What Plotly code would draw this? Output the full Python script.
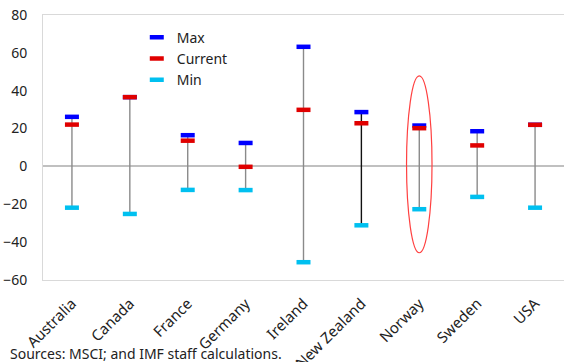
import plotly.graph_objects as go

categories = ["Australia", "Canada", "France", "Germany", "Ireland",
              "New Zealand", "Norway", "Sweden", "USA"]
max_vals = [26.2, 36.6, 16.5, 12.4, 63.2, 28.7, 21.6, 18.6, 22.0]
current_vals = [22.1, 36.6, 13.6, -0.2, 29.9, 22.8, 20.2, 11.1, 22.0]
min_vals = [-21.8, -25.1, -12.4, -12.5, -50.6, -31.1, -22.6, -16.1, -21.8]
y_ticks = [-60, -40, -20, 0, 20, 40, 60, 80]

FONT = "Noto Sans"
stem_colors = ["#8a8a8a", "#8a8a8a", "#8a8a8a", "#8a8a8a", "#8a8a8a",
               "#111111", "#8a8a8a", "#8a8a8a", "#8a8a8a"]

fig = go.Figure()

# stems from min to max
for c, lo, hi, col in zip(categories, min_vals, max_vals, stem_colors):
    fig.add_trace(go.Scatter(
        x=[c, c], y=[lo, max(hi, lo)], mode="lines",
        line=dict(color=col, width=1.4), showlegend=False, hoverinfo="skip"))

def dash_trace(name, vals, color, rank):
    return go.Scatter(
        x=categories, y=vals, mode="markers", name=name, legendrank=rank,
        marker=dict(symbol="line-ew", size=10, color=color,
                    line=dict(color=color, width=4.5)))

fig.add_trace(dash_trace("Min", min_vals, "#00c0f0", 3))
fig.add_trace(dash_trace("Max", max_vals, "#0000ff", 1))
fig.add_trace(dash_trace("Current", current_vals, "#e00000", 2))

# ellipse highlighting Norway
ni = categories.index("Norway")
fig.add_shape(type="circle", xref="x", yref="y",
              x0=ni - 0.22, x1=ni + 0.22, y0=-45.6, y1=47.8,
              line=dict(color="#ff4040", width=1.2))

fig.add_annotation(text="Sources: MSCI; and IMF staff calculations.",
                   xref="paper", yref="paper", x=-0.068, y=-0.279,
                   xanchor="left", yanchor="middle", showarrow=False,
                   font=dict(family=FONT, size=14, color="#222222"))

fig.update_layout(
    width=564, height=362,
    margin=dict(l=43, r=0, t=15, b=82),
    paper_bgcolor="white", plot_bgcolor="white",
    font=dict(family=FONT, size=13, color="#222222"),
    showlegend=True,
    legend=dict(x=0.18, y=0.975, xanchor="left", yanchor="top",
                bgcolor="rgba(0,0,0,0)", font=dict(family=FONT, size=14),
                itemwidth=30, tracegroupgap=0),
    xaxis=dict(type="category", categoryorder="array", categoryarray=categories,
               tickangle=-45, showgrid=False, zeroline=False, automargin=False,
               showline=True, linecolor="#d9d9d9", linewidth=1, mirror=True,
               ticks="", ticklabelstandoff=8,
               tickfont=dict(family=FONT, size=15, color="#222222"),
               range=[-0.5, len(categories) - 0.5]),
    yaxis=dict(range=[-60, 80], tickvals=y_ticks, showgrid=False, automargin=False,
               zeroline=True, zerolinecolor="#c0c0c0", zerolinewidth=2,
               showline=True, linecolor="#d9d9d9", linewidth=1, mirror=True,
               ticks="", ticklabelstandoff=12,
               tickfont=dict(family=FONT, size=14, color="#222222")),
)

fig.write_html("out.html", config={"displayModeBar": False},
               post_script="document.body.style.margin='0';document.body.style.overflow='hidden';")
